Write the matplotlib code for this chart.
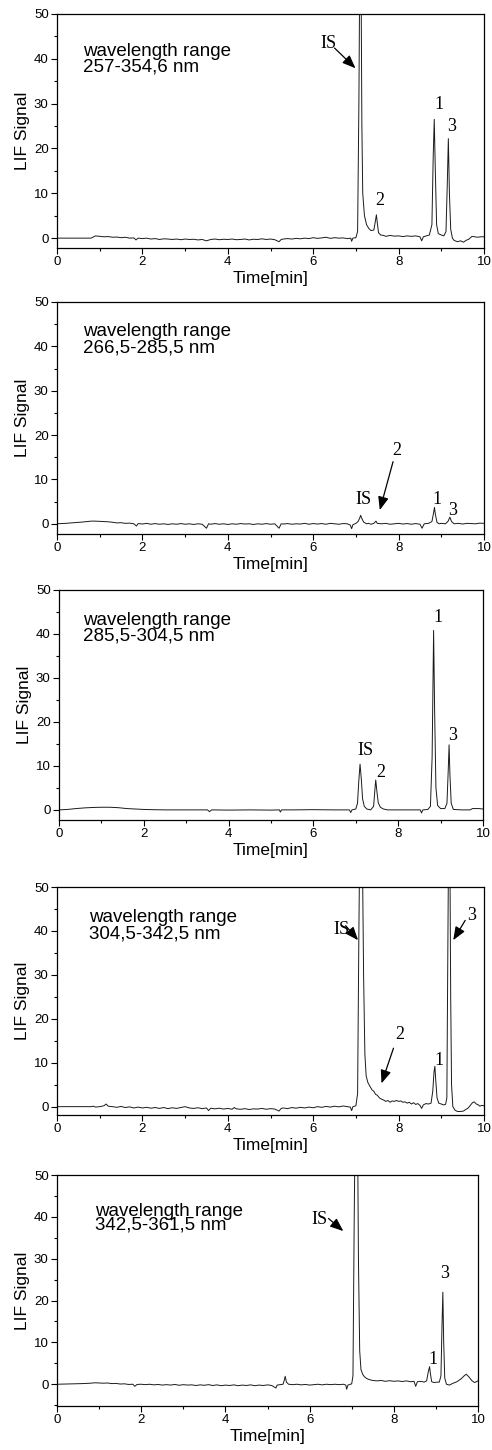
import matplotlib
matplotlib.use('Agg')
import matplotlib.pyplot as plt
from matplotlib.ticker import MultipleLocator

# chromatogram traces: time [min], LIF signal
t1 = [0.0, 0.2, 0.4, 0.6, 0.8, 0.9, 1.0, 1.1, 1.2, 1.3, 1.4, 1.5, 1.6, 1.7, 1.8, 1.85, 1.9, 2.0, 2.1, 2.2,
      2.3, 2.4, 2.5, 2.6, 2.7, 2.8, 2.9, 3.0, 3.1, 3.2, 3.3, 3.4, 3.5, 3.6, 3.7, 3.8, 3.9, 4.0, 4.1, 4.2,
      4.3, 4.4, 4.5, 4.6, 4.7, 4.8, 4.9, 5.0, 5.1, 5.2, 5.25, 5.3, 5.4, 5.5, 5.6, 5.7, 5.8, 5.9, 6.0, 6.1,
      6.2, 6.3, 6.4, 6.5, 6.6, 6.7, 6.8, 6.88, 6.9, 6.93, 7.0, 7.04, 7.07, 7.09, 7.12, 7.14, 7.16, 7.2, 7.25, 7.3,
      7.35, 7.42, 7.46, 7.48, 7.5, 7.53, 7.58, 7.65, 7.7, 7.8, 7.9, 8.0, 8.1, 8.2, 8.3, 8.4, 8.5, 8.54, 8.58, 8.65,
      8.72, 8.78, 8.81, 8.835, 8.86, 8.89, 8.93, 9.0, 9.06, 9.11, 9.14, 9.165, 9.19, 9.22, 9.26, 9.3, 9.38, 9.45, 9.52, 9.58,
      9.65, 9.72, 9.78, 9.85, 9.92, 10.0]
s1 = [0.0, 0.0, 0.0, 0.0, 0.0, 0.5, 0.4, 0.3, 0.35, 0.2, 0.25, 0.1, 0.2, 0.0, 0.05, -0.4, 0.0, -0.1, 0.0, -0.2,
      -0.1, -0.3, -0.15, -0.2, -0.3, -0.2, -0.35, -0.2, -0.3, -0.25, -0.4, -0.3, -0.6, -0.3, -0.2, -0.35, -0.25, -0.3, -0.2, -0.35,
      -0.3, -0.2, -0.4, -0.25, -0.3, -0.15, -0.3, -0.2, -0.35, -0.8, -0.3, -0.2, -0.1, -0.2, -0.05, -0.15, 0.0, -0.1, 0.1, -0.05,
      0.05, 0.2, -0.05, 0.1, 0.0, 0.05, -0.1, 0.0, -0.7, 0.0, 0.1, 1.5, 30, 60, 60, 25, 10, 5.0, 3.0, 2.2,
      1.7, 1.8, 4.0, 5.2, 3.5, 1.2, 0.7, 0.6, 0.4, 0.6, 0.45, 0.5, 0.35, 0.5, 0.4, 0.5, 0.3, -0.6, 0.3, 0.5,
      0.7, 3.0, 18, 26.5, 15, 3.0, 1.0, 0.7, 0.5, 1.5, 12, 22.2, 10, 2.0, 0.0, -0.5, -0.8, -0.6, -0.9, -0.5,
      -0.2, 0.4, 0.3, 0.2, 0.3, 0.3]

t2 = [0.0, 0.2, 0.4, 0.6, 0.8, 0.9, 1.0, 1.1, 1.2, 1.3, 1.4, 1.5, 1.6, 1.7, 1.8, 1.86, 1.9, 2.0, 2.1, 2.2,
      2.3, 2.4, 2.5, 2.6, 2.7, 2.8, 2.9, 3.0, 3.1, 3.2, 3.3, 3.4, 3.5, 3.55, 3.6, 3.7, 3.8, 3.9, 4.0, 4.1,
      4.2, 4.3, 4.4, 4.5, 4.6, 4.7, 4.8, 4.9, 5.0, 5.1, 5.2, 5.25, 5.3, 5.4, 5.5, 5.6, 5.7, 5.8, 5.9, 6.0,
      6.1, 6.2, 6.3, 6.4, 6.5, 6.6, 6.7, 6.8, 6.87, 6.9, 6.93, 7.0, 7.05, 7.09, 7.11, 7.14, 7.18, 7.25, 7.3, 7.35,
      7.42, 7.47, 7.5, 7.6, 7.7, 7.8, 7.9, 8.0, 8.1, 8.2, 8.3, 8.4, 8.5, 8.55, 8.6, 8.7, 8.78, 8.82, 8.84, 8.86,
      8.9, 8.95, 9.0, 9.1, 9.16, 9.2, 9.24, 9.3, 9.4, 9.5, 9.6, 9.7, 9.8, 9.9, 10.0]
s2 = [0.0, 0.1, 0.25, 0.4, 0.6, 0.6, 0.55, 0.5, 0.45, 0.35, 0.2, 0.25, 0.1, 0.15, 0.0, -0.5, 0.05, -0.05, 0.1, -0.1,
      0.05, -0.1, 0.0, -0.15, 0.0, -0.1, 0.05, -0.1, 0.0, -0.15, 0.0, -0.1, -1.0, 0.0, -0.1, 0.05, -0.1, 0.0, -0.15, 0.0,
      -0.1, 0.05, -0.05, 0.0, -0.15, 0.0, -0.1, 0.05, -0.1, 0.0, -1.0, 0.0, -0.05, 0.05, -0.1, 0.0, -0.05, 0.1, -0.1, 0.05,
      -0.05, 0.05, -0.1, 0.1, 0.0, -0.1, 0.05, 0.0, -0.3, -1.1, -0.2, 0.1, 0.5, 1.3, 1.9, 1.2, 0.4, 0.0, 0.1, -0.1,
      0.1, 0.6, 0.1, 0.0, 0.1, -0.1, 0.0, 0.1, -0.05, 0.05, -0.1, 0.05, -0.1, -1.0, 0.0, 0.1, 0.5, 2.5, 3.7, 2.2,
      0.3, 0.0, 0.1, 0.0, 0.6, 1.5, 0.5, 0.0, 0.1, -0.05, 0.1, 0.05, 0.0, 0.15, 0.1]

t3 = [0.0, 0.2, 0.4, 0.6, 0.8, 1.0, 1.2, 1.4, 1.6, 1.8, 2.0, 2.2, 2.5, 3.0, 3.5, 3.55, 3.6, 4.0, 4.5, 5.0,
      5.2, 5.22, 5.25, 5.5, 6.0, 6.5, 6.85, 6.88, 6.91, 7.0, 7.04, 7.07, 7.1, 7.13, 7.16, 7.2, 7.26, 7.35, 7.42, 7.45,
      7.47, 7.5, 7.53, 7.58, 7.65, 7.75, 8.0, 8.3, 8.52, 8.55, 8.58, 8.7, 8.76, 8.8, 8.835, 8.86, 8.89, 8.93, 9.0, 9.1,
      9.15, 9.18, 9.2, 9.22, 9.25, 9.3, 9.5, 9.7, 9.75, 9.9, 10.0]
s3 = [0.0, 0.1, 0.3, 0.45, 0.55, 0.6, 0.6, 0.5, 0.3, 0.2, 0.1, 0.05, 0.0, 0.0, 0.0, -0.4, 0.0, -0.05, 0.0, -0.05,
      0.0, -0.5, 0.0, 0.0, 0.05, 0.0, 0.0, -0.6, 0.0, 0.2, 1.5, 6.5, 10.4, 7.0, 2.5, 0.8, 0.2, 0.0, 0.8, 4.5,
      6.8, 4.0, 1.6, 0.6, 0.2, 0.0, 0.0, 0.0, 0.0, -0.7, 0.0, 0.1, 0.8, 12, 40.8, 22, 5.0, 1.0, 0.3, 0.3,
      1.5, 9.0, 14.8, 8.0, 1.5, 0.1, 0.0, 0.0, 0.3, 0.3, 0.2]

t4 = [0.0, 0.3, 0.6, 0.8, 0.85, 0.9, 1.0, 1.1, 1.15, 1.2, 1.3, 1.4, 1.5, 1.6, 1.7, 1.8, 1.9, 2.0, 2.1, 2.2,
      2.3, 2.4, 2.5, 2.6, 2.7, 2.8, 2.9, 3.0, 3.1, 3.2, 3.3, 3.4, 3.5, 3.55, 3.6, 3.7, 3.8, 3.9, 4.0, 4.1,
      4.15, 4.2, 4.3, 4.4, 4.5, 4.6, 4.7, 4.8, 4.9, 5.0, 5.1, 5.2, 5.25, 5.3, 5.4, 5.5, 5.6, 5.7, 5.8, 5.9,
      6.0, 6.1, 6.2, 6.3, 6.4, 6.5, 6.6, 6.7, 6.8, 6.87, 6.9, 6.93, 7.0, 7.04, 7.07, 7.09, 7.15, 7.18, 7.21, 7.24,
      7.28, 7.33, 7.38, 7.42, 7.46, 7.5, 7.55, 7.6, 7.65, 7.7, 7.75, 7.8, 7.85, 7.9, 7.95, 8.0, 8.05, 8.1, 8.15, 8.2,
      8.25, 8.3, 8.35, 8.4, 8.45, 8.5, 8.54, 8.58, 8.64, 8.7, 8.76, 8.8, 8.83, 8.85, 8.87, 8.9, 8.94, 9.0, 9.05, 9.1,
      9.13, 9.15, 9.17, 9.2, 9.22, 9.24, 9.27, 9.32, 9.38, 9.45, 9.52, 9.58, 9.63, 9.68, 9.73, 9.77, 9.82, 9.87, 9.9, 9.95,
      10.0]
s4 = [0.0, 0.0, 0.0, 0.0, 0.1, -0.1, 0.0, 0.2, 0.6, 0.1, 0.0, -0.15, 0.05, -0.2, -0.05, -0.3, -0.1, -0.3, -0.15, -0.35,
      -0.2, -0.4, -0.2, -0.45, -0.25, -0.4, -0.2, 0.0, -0.3, -0.4, -0.25, -0.45, -0.3, -0.9, -0.35, -0.5, -0.35, -0.55, -0.4, -0.6,
      -0.2, -0.5, -0.6, -0.45, -0.65, -0.5, -0.55, -0.4, -0.6, -0.45, -0.55, -1.0, -0.4, -0.3, -0.45, -0.2, -0.35, -0.15, -0.3, -0.1,
      -0.25, 0.0, -0.15, 0.05, -0.1, 0.1, -0.05, 0.15, 0.0, -0.1, -0.9, 0.0, 0.2, 3.0, 40, 60, 60, 30, 12, 7.0,
      5.5, 4.6, 3.8, 3.5, 2.8, 2.6, 2.0, 1.7, 1.5, 1.2, 1.4, 1.0, 1.3, 1.2, 1.4, 1.2, 1.3, 1.0, 1.1, 0.8,
      1.0, 0.6, 0.9, 0.5, 0.7, 0.3, -0.4, 0.4, 0.7, 0.6, 0.8, 3.5, 8.0, 9.2, 6.0, 2.0, 0.8, 0.6, 0.4, 0.5,
      2.0, 30, 60, 60, 25, 5.0, 0.0, -0.8, -1.1, -1.1, -1.0, -0.6, -0.3, 0.3, 0.9, 1.1, 0.6, 0.4, 0.1, 0.3,
      0.2]

t5 = [0.0, 0.2, 0.4, 0.6, 0.8, 0.9, 1.0, 1.1, 1.2, 1.3, 1.4, 1.5, 1.6, 1.7, 1.8, 1.85, 1.9, 2.0, 2.1, 2.2,
      2.3, 2.4, 2.5, 2.6, 2.7, 2.8, 2.9, 3.0, 3.1, 3.2, 3.3, 3.4, 3.5, 3.6, 3.7, 3.8, 3.9, 4.0, 4.1, 4.2,
      4.3, 4.4, 4.5, 4.6, 4.7, 4.8, 4.9, 5.0, 5.1, 5.2, 5.23, 5.3, 5.37, 5.4, 5.42, 5.45, 5.5, 5.6, 5.7, 5.8,
      5.9, 6.0, 6.1, 6.2, 6.3, 6.4, 6.5, 6.6, 6.7, 6.8, 6.86, 6.88, 6.91, 7.0, 7.03, 7.06, 7.08, 7.14, 7.16, 7.19,
      7.22, 7.26, 7.3, 7.35, 7.42, 7.5, 7.6, 7.7, 7.8, 7.9, 8.0, 8.1, 8.2, 8.3, 8.4, 8.48, 8.52, 8.56, 8.65, 8.72,
      8.78, 8.82, 8.85, 8.87, 8.9, 8.96, 9.02, 9.08, 9.12, 9.145, 9.165, 9.185, 9.21, 9.25, 9.32, 9.4, 9.5, 9.6, 9.67, 9.72,
      9.78, 9.85, 9.92, 10.0]
s5 = [0.0, 0.05, 0.1, 0.15, 0.25, 0.35, 0.3, 0.25, 0.3, 0.15, 0.2, 0.05, 0.1, -0.05, 0.0, -0.5, -0.05, 0.0, -0.1, 0.0,
      -0.15, -0.05, -0.2, -0.1, -0.2, -0.05, -0.25, -0.1, -0.2, -0.15, -0.3, -0.15, -0.25, -0.1, -0.3, -0.15, -0.35, -0.2, -0.3, -0.15,
      -0.35, -0.2, -0.3, -0.15, -0.35, -0.2, -0.3, -0.15, -0.3, -0.9, -0.2, -0.1, 0.0, 1.0, 1.9, 0.5, 0.0, -0.1, 0.0, -0.15,
      -0.05, -0.2, -0.1, 0.0, -0.15, 0.0, -0.1, 0.0, -0.1, 0.0, -0.2, -1.2, -0.2, 0.1, 2.0, 40, 60, 60, 30, 8.0,
      3.5, 2.4, 1.8, 1.4, 1.1, 0.9, 0.8, 0.9, 0.7, 0.85, 0.7, 0.8, 0.65, 0.8, 0.6, 0.7, -0.5, 0.6, 0.7, 0.5,
      0.8, 3.0, 4.2, 2.5, 0.6, 0.4, 0.5, 0.5, 2.0, 14, 22, 10, 1.5, 0.0, -0.2, 0.2, 0.6, 1.3, 2.0, 2.4,
      1.8, 0.9, 0.4, 0.8]

ranges = ['257-354,6 nm', '266,5-285,5 nm', '285,5-304,5 nm', '304,5-342,5 nm', '342,5-361,5 nm']
times = [t1, t2, t3, t4, t5]
signals = [s1, s2, s3, s4, s5]
ymins = [-2.2, -2.3, -2.3, -1.9, -5.2]

# axes boxes in pixels: left, right, top, bottom
boxes = [(57, 484, 14, 248), (57, 484, 302, 534), (59, 483, 590, 820),
         (57, 484, 887, 1115), (57, 478, 1175, 1406)]
# wavelength text anchor: x data, y axes fraction
text_pos = [(0.61, 0.878), (0.61, 0.91), (0.57, 0.906), (0.75, 0.905), (0.91, 0.878)]
text_spacing = [0.95, 0.95, 0.95, 0.95, 0.72]

# peak labels: (text, x, y)
labels = [
    [('IS', 6.35, 43.5), ('2', 7.55, 8.5), ('1', 8.95, 29.8), ('3', 9.24, 25.0)],
    [('IS', 7.17, 5.5), ('2', 7.95, 16.6), ('1', 8.9, 5.5), ('3', 9.26, 3.1)],
    [('IS', 7.22, 13.5), ('2', 7.6, 8.5), ('1', 8.94, 43.8), ('3', 9.29, 17.0)],
    [('IS', 6.66, 40.3), ('2', 8.03, 16.5), ('1', 8.95, 10.6), ('3', 9.71, 43.6)],
    [('IS', 6.24, 39.4), ('1', 8.92, 5.8), ('3', 9.21, 26.5)],
]
# arrows: (tail x, tail y, tip x, tip y)
arrows = [
    [(6.5, 42.4, 6.99, 37.9)],
    [(7.87, 14.0, 7.56, 3.1)],
    [],
    [(6.76, 41.2, 7.05, 37.9), (7.88, 13.3, 7.6, 5.3), (9.56, 42.4, 9.28, 37.9)],
    [(6.45, 39.6, 6.8, 36.6)],
]

W, H = 492, 1450
fig = plt.figure(figsize=(W / 100, H / 100), dpi=100)
sans = ['Liberation Sans', 'DejaVu Sans']
serif = ['Liberation Serif', 'DejaVu Serif']

for i in range(5):
    left, right, top, bottom = boxes[i]
    ax = fig.add_axes([left / W, (H - bottom) / H, (right - left) / W, (bottom - top) / H])
    ax.plot(times[i], signals[i], color='#1a1a1a', lw=0.7)
    ax.set_xlim(0, 10)
    ax.set_ylim(ymins[i], 50)
    ax.xaxis.set_major_locator(MultipleLocator(2))
    ax.xaxis.set_minor_locator(MultipleLocator(1))
    ax.yaxis.set_major_locator(MultipleLocator(10))
    ax.yaxis.set_minor_locator(MultipleLocator(5))
    ax.tick_params(which='major', direction='out', length=4, width=0.8, pad=2, labelsize=9.5)
    ax.tick_params(which='minor', direction='out', length=2.5, width=0.8)
    for lab in ax.get_xticklabels() + ax.get_yticklabels():
        lab.set_family(sans)
    for sp in ax.spines.values():
        sp.set_linewidth(0.9)
    ax.set_xlabel('Time[min]', fontsize=12.5, family=sans, labelpad=2)
    ax.set_ylabel('LIF Signal', fontsize=12.5, family=sans, labelpad=3)

    tx, ty = text_pos[i]
    ax.text(tx, ty, 'wavelength range\n' + ranges[i], transform=ax.get_xaxis_transform(),
            fontsize=13.5, family=sans, va='top', ha='left', linespacing=text_spacing[i])
    for s, x, y in labels[i]:
        ax.text(x, y, s, fontsize=13, family=serif, ha='center', va='center')
    for x0, y0, x1, y1 in arrows[i]:
        ax.annotate('', xy=(x1, y1), xytext=(x0, y0),
                    arrowprops=dict(arrowstyle='-|>,head_length=0.8,head_width=0.32',
                                    color='black', lw=0.9, shrinkA=0, shrinkB=0))

fig.savefig('out.png', dpi=100)
